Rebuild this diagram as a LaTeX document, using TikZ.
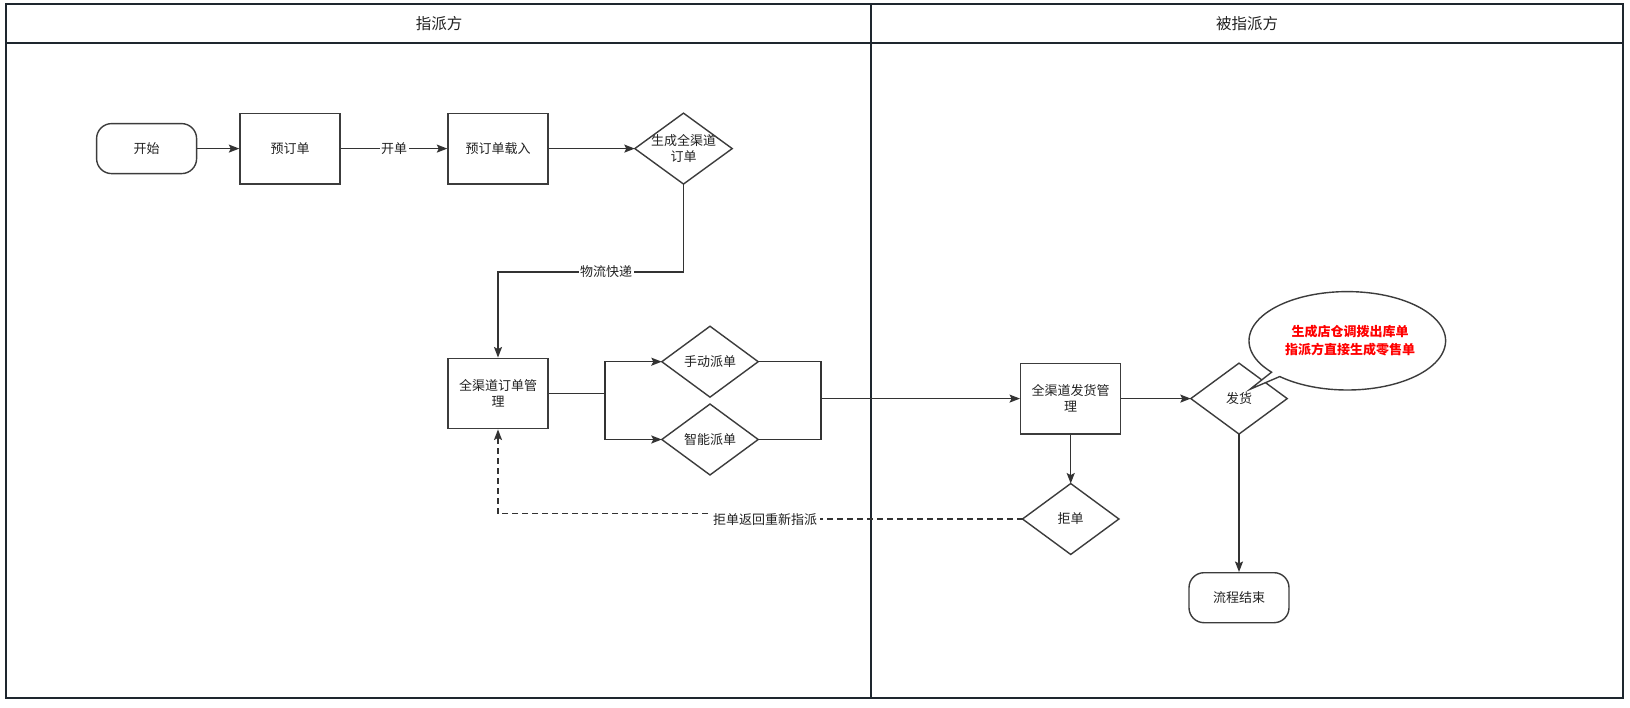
\documentclass[tikz,border=0pt]{standalone}
\usepackage{fontspec}
\setmainfont{Noto Sans CJK SC}
\usetikzlibrary{arrows.meta}
\definecolor{framec}{RGB}{30,38,46}
\definecolor{linec}{RGB}{51,51,51}
\definecolor{boxc}{RGB}{60,60,60}
\definecolor{txtc}{RGB}{34,34,34}
\begin{document}
\begin{tikzpicture}[x=1pt,y=-1pt,
  every node/.style={text=txtc, font=\fontsize{13}{16}\selectfont, align=center},
  frame/.style={draw=framec, line width=2pt},
  term/.style={draw=boxc, line width=1.4pt, rounded corners=15pt, minimum width=100pt, minimum height=50pt, inner sep=0pt},
  proc/.style={draw=boxc, line width=1.4pt, minimum width=100pt, minimum height=70.5pt, inner sep=0pt},
  dec/.style={minimum width=96pt, minimum height=70.5pt, inner sep=0pt},
  shapeline/.style={draw=boxc, line width=1.4pt, line join=miter},
  conn/.style={draw=linec, line width=1.4pt, -{Stealth[length=10.5pt,width=8pt,inset=2pt]}},
  plain/.style={draw=linec, line width=1.4pt},
  dconn/.style={conn, dash pattern=on 6pt off 4pt},
  lbl/.style={fill=white, inner sep=1.5pt},
  calltext/.style={text=red, font=\fontsize{13}{18}\selectfont\bfseries}
]
\useasboundingbox (0,0) rectangle (1630,708);
\fill[white] (0,0) rectangle (1630,708);

% swimlane frame
\draw[frame] (6,4) rectangle (1622.7,697.5);
\draw[frame] (6,43.3) -- (1622.7,43.3);
\draw[frame] (871,4) -- (871,697.5);
\node[font=\fontsize{15.5}{18}\selectfont] (laneA) at (439,23.6) {指派方};
\node[font=\fontsize{15.5}{18}\selectfont] (laneB) at (1247,23.6) {被指派方};

% nodes
\node[term] (start) at (146.6,148.6) {开始};
\node[proc] (pre) at (290,148.6) {预订单};
\node[proc] (load) at (498,148.6) {预订单载入};
\node[dec, minimum width=97pt] (gen) at (683.5,148.6) {生成全渠道\\订单};
\node[proc] (order) at (498,393.5) {全渠道订单管\\理};
\node[dec] (man) at (710,361.7) {手动派单};
\node[dec] (smart) at (710,439.5) {智能派单};
\node[proc] (fh) at (1070.7,398.6) {全渠道发货管\\理};
\node[dec] (ship) at (1239,398.6) {发货};
\node[dec] (rej) at (1070.7,519) {拒单};
\node[term] (end) at (1239,597.7) {流程结束};

\foreach \n in {gen,man,smart,ship,rej}
  \draw[shapeline] (\n.north) -- (\n.east) -- (\n.south) -- (\n.west) -- cycle;

% callout
\draw[shapeline, fill=white] plot[domain=140.4:493.4, samples=140]
  ({1347.3+98.3*cos(\x)},{340.8+49.2*sin(\x)}) -- (1250,389.3) -- cycle;
\node[calltext] (note) at (1350,341) {生成店仓调拨出库单\\指派方直接生成零售单};

% connectors
\draw[conn] (start.east) -- (pre.west);
\draw[conn] (pre.east) -- node[lbl] (lkd) {开单} (load.west);
\draw[conn] (load.east) -- (gen.west);

\coordinate (bend1) at (683.5,272);
\draw[conn] (gen.south) -- (bend1) -| (order.north);
\node[lbl] (lwl) at (606,272) {物流快递};

\coordinate (fork) at (605,393.5);
\draw[plain] (order.east) -- (fork);
\draw[conn] (fork) |- (man.west);
\draw[conn] (fork) |- (smart.west);

\coordinate (merge) at (821,398.6);
\draw[plain] (man.east) -| (merge);
\draw[plain] (smart.east) -| (merge);
\draw[conn] (merge) -- (fh.west);

\draw[conn] (fh.east) -- (ship.west);
\draw[conn] (ship.south) -- (end.north);
\draw[conn] (fh.south) -- (rej.north);

\coordinate (j1) at (765,519);
\coordinate (j2) at (765,513.3);
\coordinate (j3) at (498,513.3);
\draw[dconn] (rej.west) -- (j1) -- (j2) -- (j3) -- (order.south);
\node[lbl, inner sep=2.5pt] (lrej) at (765,520) {拒单返回重新指派};
\end{tikzpicture}
\end{document}
